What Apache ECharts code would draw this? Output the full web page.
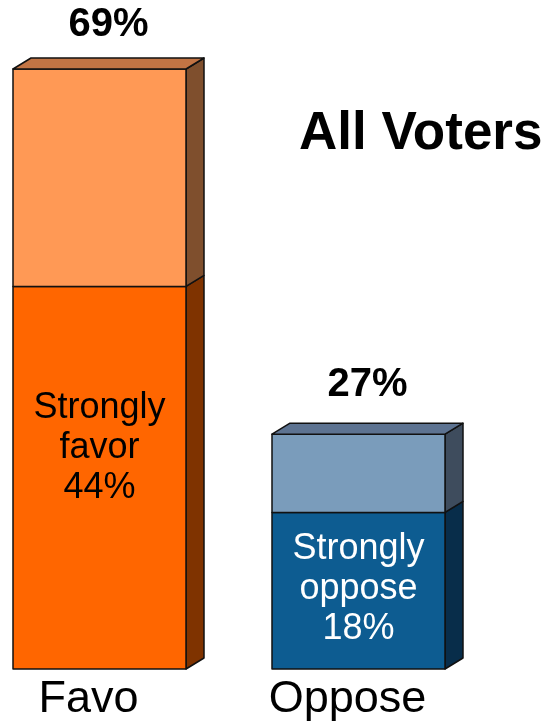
<!DOCTYPE html>
<html>
<head>
<meta charset="utf-8">
<script src="https://cdn.jsdelivr.net/npm/echarts@6/dist/echarts.min.js"></script>
<style>html,body{margin:0;padding:0;background:#fff;}#c{width:547px;height:724px;}</style>
</head>
<body>
<div id="c"></div>
<script>
const categories = ['Favo', 'Oppose'];
const strongValues = [44, 18];
const totalValues = [69, 27];
const strongNames = ['Strongly\nfavor', 'Strongly\noppose'];
const chartTitle = 'All Voters';

const FONT = '"Liberation Sans", Arial, sans-serif';
const BAR_W = 173, DX = 18, DY = -11;
const palette = [
  { strong: '#FF6600', strongSide: '#7F3300', rest: '#FF9955', restSide: '#7F4F2D', top: '#C27444', text: '#000000' },
  { strong: '#0D5C91', strongSide: '#082D4A', rest: '#7A9CBB', restSide: '#3E4C5D', top: '#5D7391', text: '#FFFFFF' }
];
const innerLabelDy = [-30, -2];
const topLabelDy = [-33, -38];

const chart = echarts.init(document.getElementById('c'));

function renderBar(isTop) {
  return function (params, api) {
    const i = api.value(0);
    const x = api.coord([i, 0])[0];
    const yb = api.coord([i, api.value(1)])[1];
    const yt = api.coord([i, api.value(2)])[1];
    const c = palette[i];
    const l = x - BAR_W / 2, r = x + BAR_W / 2;
    const stroke = { stroke: '#111', lineWidth: 1.5, lineJoin: 'round' };
    const children = [
      { type: 'polygon', shape: { points: [[r, yb], [r + DX, yb + DY], [r + DX, yt + DY], [r, yt]] },
        style: Object.assign({ fill: isTop ? c.restSide : c.strongSide }, stroke) },
      { type: 'rect', shape: { x: l, y: yt, width: BAR_W, height: yb - yt },
        style: Object.assign({ fill: isTop ? c.rest : c.strong }, stroke) }
    ];
    if (isTop) {
      children.push({ type: 'polygon', shape: { points: [[l, yt], [l + DX, yt + DY], [r + DX, yt + DY], [r, yt]] },
        style: Object.assign({ fill: c.top }, stroke) });
      children.push({ type: 'text', style: {
        text: totalValues[i] + '%', x: x + DX / 2, y: yt + DY + topLabelDy[i],
        align: 'center', verticalAlign: 'middle', fill: '#000',
        font: 'bold 40px ' + FONT } });
    } else {
      children.push({ type: 'text', style: {
        text: strongNames[i] + '\n' + strongValues[i] + '%', x: x, y: (yt + yb) / 2 + innerLabelDy[i],
        align: 'center', verticalAlign: 'middle', fill: c.text, lineHeight: 40,
        font: '36px ' + FONT } });
    }
    return { type: 'group', children: children };
  };
}

chart.setOption({
  animation: false,
  backgroundColor: '#fff',
  title: { text: chartTitle, left: 294, top: 103,
    textStyle: { fontFamily: FONT, fontWeight: 'bold', fontSize: 53, lineHeight: 53, color: '#000' } },
  grid: { left: 99.5, right: 188.5, top: 69, bottom: 55 },
  xAxis: { type: 'category', data: categories, boundaryGap: false,
    axisLine: { show: false }, axisTick: { show: false },
    axisLabel: { fontFamily: FONT, fontSize: 45, lineHeight: 45, color: '#000', margin: 8,
      padding: [0, 22, 0, 0], interval: 0 } },
  yAxis: { type: 'value', min: 0, max: 69, show: false },
  series: [
    { type: 'custom', renderItem: renderBar(false),
      data: categories.map((c, i) => [i, 0, strongValues[i]]) },
    { type: 'custom', renderItem: renderBar(true),
      data: categories.map((c, i) => [i, strongValues[i], totalValues[i]]) }
  ]
});
</script>
</body>
</html>
